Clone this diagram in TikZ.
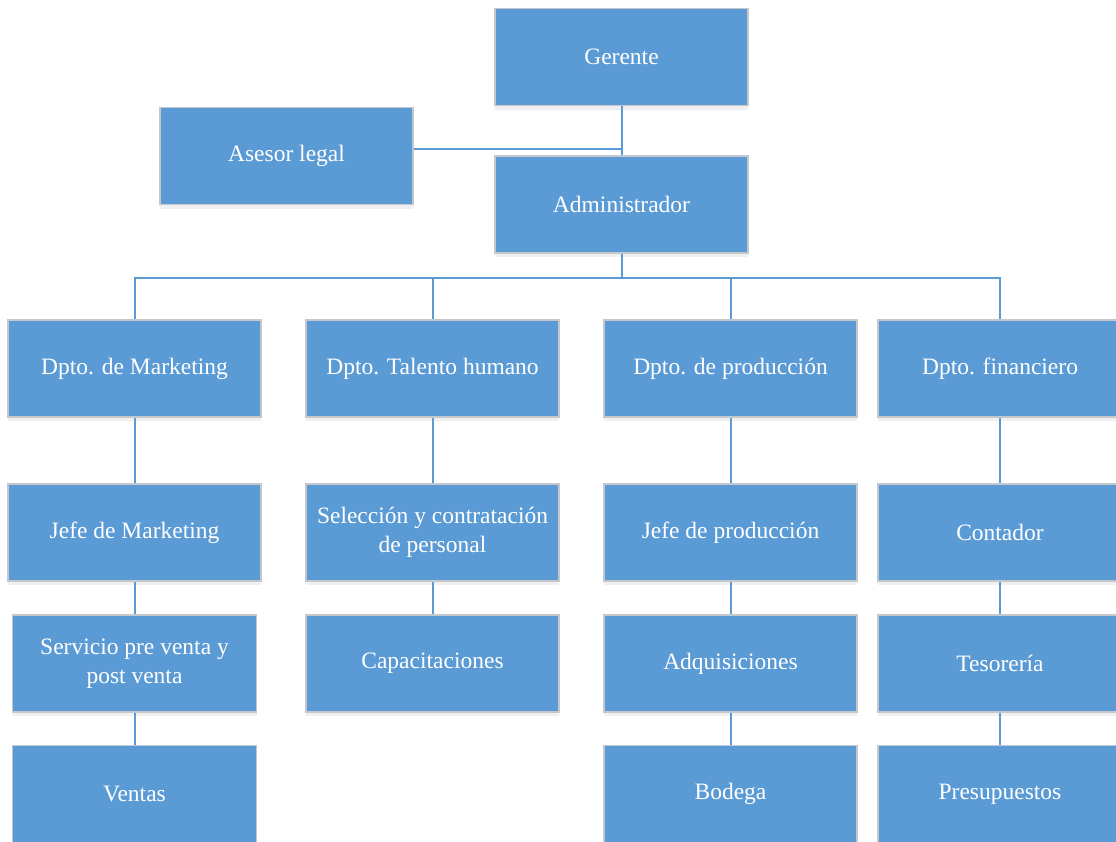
\documentclass[tikz,border=0pt]{standalone}
\usepackage{fontspec}
\setmainfont{Liberation Serif}
\usetikzlibrary{shadows}
\definecolor{boxblue}{HTML}{5B9BD5}
\definecolor{boxrim}{HTML}{C4C8CC}
\tikzset{x=1pt, y=-1pt,
every box/.style={ % Sets the properties for each box
draw=boxrim,
line width=1.2pt,
fill=boxblue,
text=white,
font=\fontsize{23.5}{29}\selectfont,
align=center,
minimum width=253pt,
minimum height=97pt,
inner sep=2pt,
drop shadow={opacity=0.12, shadow xshift=0pt, shadow yshift=-4pt}},
narrow/.style={minimum width=244pt}, % Narrower boxes
link/.style={ % Sets the properties for each connector
draw=boxblue,
line width=2pt}}

\begin{document}
\begin{tikzpicture}
\useasboundingbox (0,0) rectangle (1116,841);
\begin{scope}
\clip (0,0) rectangle (1116,841);
% connectors
\coordinate (bus) at (621.5,278);
\coordinate (join) at (621.5,149);
\node[every box] (gerente) at (621.5,57) {Gerente};
\node[every box] (asesor) at (286.5,156) {Asesor legal};
\node[every box] (admin) at (621.5,204.5) {Administrador};
\node[every box] (mkt) at (134.5,368.5) {Dpto. de Marketing};
\node[every box] (talento) at (432.5,368.5) {Dpto. Talento humano};
\node[every box] (prod) at (730.5,368.5) {Dpto. de producción};
\node[every box, narrow] (fin) at (1000,368.5) {Dpto. financiero};
\node[every box] (jefemkt) at (134.5,532.5) {Jefe de Marketing};
\node[every box] (seleccion) at (432.5,532.5) {Selección y contratación\\de personal};
\node[every box] (jefeprod) at (730.5,532.5) {Jefe de producción};
\node[every box, narrow] (contador) at (1000,532.5) {Contador};
\node[every box, narrow] (servicio) at (134.5,663.5) {Servicio pre venta y\\post venta};
\node[every box] (capacita) at (432.5,663.5) {Capacitaciones};
\node[every box] (adquis) at (730.5,663.5) {Adquisiciones};
\node[every box, narrow] (tesoreria) at (1000,663.5) {Tesorería};
\node[every box, narrow] (ventas) at (134.5,794) {Ventas};
\node[every box] (bodega) at (730.5,794) {Bodega};
\node[every box, narrow] (presup) at (1000,794) {Presupuestos};
\draw[link] (gerente) -- (admin);
\draw[link] (join) -- (join -| asesor.east);
\draw[link] (admin) -- (bus);
\draw[link] (bus) -| (mkt);
\draw[link] (bus) -| (talento);
\draw[link] (bus) -| (prod);
\draw[link] (bus) -| (fin);
\draw[link] (mkt) -- (jefemkt);
\draw[link] (jefemkt) -- (servicio);
\draw[link] (servicio) -- (ventas);
\draw[link] (talento) -- (seleccion);
\draw[link] (seleccion) -- (capacita);
\draw[link] (prod) -- (jefeprod);
\draw[link] (jefeprod) -- (adquis);
\draw[link] (adquis) -- (bodega);
\draw[link] (fin) -- (contador);
\draw[link] (contador) -- (tesoreria);
\draw[link] (tesoreria) -- (presup);
\end{scope}
\end{tikzpicture}
\end{document}
